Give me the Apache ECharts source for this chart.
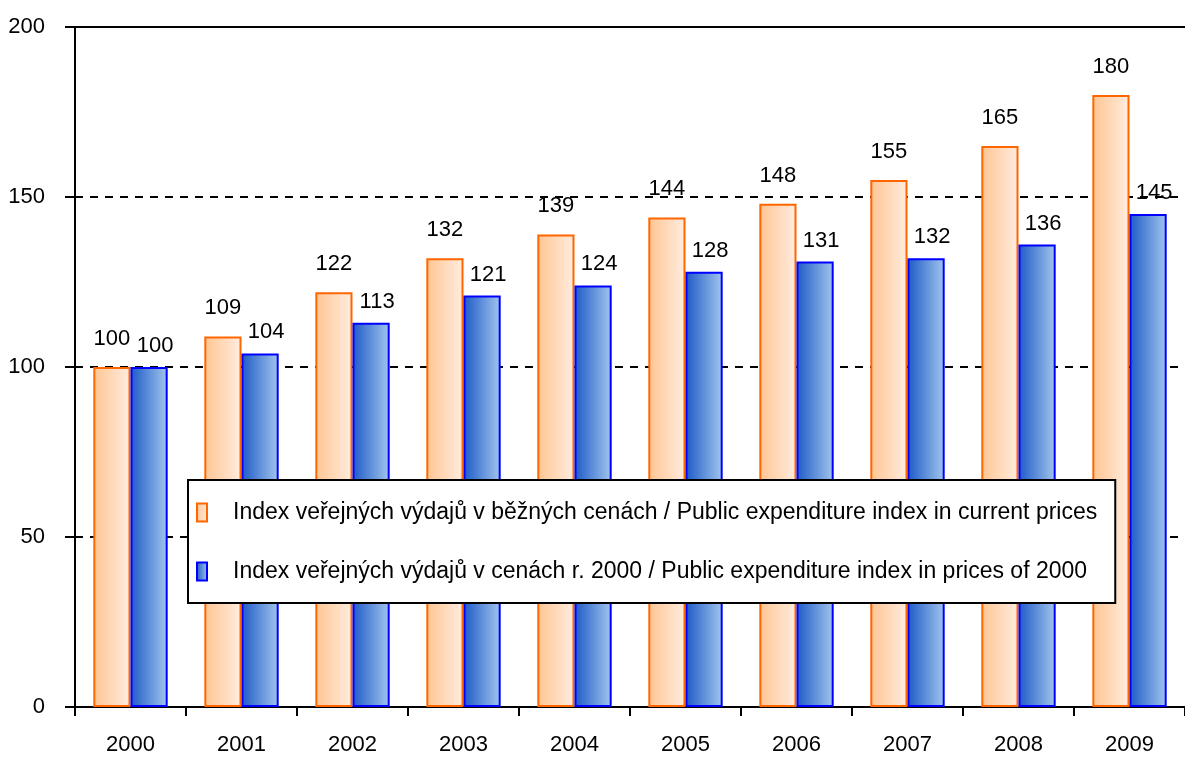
<!DOCTYPE html>
<html>
<head>
<meta charset="utf-8">
<script src="https://cdn.jsdelivr.net/npm/echarts@6/dist/echarts.min.js"></script>
<style>
html, body { margin: 0; padding: 0; background: #fff; }
#chart { width: 1185px; height: 760px; }
</style>
</head>
<body>
<div id="chart"></div>
<script>
var years = ['2000', '2001', '2002', '2003', '2004', '2005', '2006', '2007', '2008', '2009'];
var currentPrices = [100, 109, 122, 132, 139, 144, 148, 155, 165, 180];
var prices2000 = [100, 104, 113, 121, 124, 128, 131, 132, 136, 145];
var seriesNames = [
	'Index veřejných výdajů v běžných cenách / Public expenditure index in current prices',
	'Index veřejných výdajů v cenách r. 2000 / Public expenditure index in prices of 2000'
];
var yTicks = [0, 50, 100, 150, 200];

var font = "'Liberation Sans', Arial, sans-serif";

var chart = echarts.init(document.getElementById('chart'));

function grad(c1, c2) {
	return new echarts.graphic.LinearGradient(0, 0, 1, 0, [
		{ offset: 0, color: c1 },
		{ offset: 1, color: c2 }
	]);
}

var option = {
	animation : false,
	backgroundColor : '#fff',
	grid : {
		left : 75,
		right : 0,
		top : 27,
		bottom : 53
	},
	legend : {
		orient : 'vertical',
		left : 188,
		top : 480,
		backgroundColor : '#fff',
		borderColor : '#000',
		borderWidth : 2,
		borderRadius : 0,
		padding : [21, 18, 20, 8],
		icon : 'rect',
		itemWidth : 10,
		itemHeight : 18,
		itemGap : 36,
		textStyle : {
			color : '#000',
			fontFamily : font,
			fontSize : 23,
			padding : [0, 0, 0, 21]
		},
		data : seriesNames
	},
	xAxis : [ {
		type : 'category',
		data : years,
		axisLine : { lineStyle : { color : '#000', width : 2 } },
		axisTick : { show : true, inside : false, length : 9, lineStyle : { color : '#000', width : 2 } },
		axisLabel : {
			color : '#000',
			fontFamily : font,
			fontSize : 22,
			margin : 27
		}
	}, {
		type : 'category',
		data : years,
		position : 'top',
		axisLine : { lineStyle : { color : '#000', width : 2 } },
		axisTick : { show : false },
		axisLabel : { show : false }
	} ],
	yAxis : {
		type : 'value',
		min : yTicks[0],
		max : yTicks[yTicks.length - 1],
		interval : 50,
		axisLine : { show : true, lineStyle : { color : '#000', width : 2 } },
		axisTick : { show : true, length : 10, lineStyle : { color : '#000', width : 2 } },
		axisLabel : {
			color : '#000',
			fontFamily : font,
			fontSize : 22,
			margin : 30
		},
		splitLine : {
			show : true,
			lineStyle : { color : '#000', width : 2, type : [8, 7] }
		}
	},
	series : [ {
		name : seriesNames[0],
		type : 'bar',
		barGap : '0%',
		barCategoryGap : '33%',
		data : currentPrices,
		itemStyle : {
			color : grad('#FFC592', '#FFEDE0'),
			borderColor : '#FF6600',
			borderWidth : 2
		},
		label : {
			show : true,
			position : 'top',
			distance : 17,
			color : '#000',
			fontFamily : font,
			fontSize : 22
		}
	}, {
		name : seriesNames[1],
		type : 'bar',
		barGap : '0%',
		barCategoryGap : '33%',
		data : prices2000,
		itemStyle : {
			color : grad('#1E5AC8', '#A2C6EC'),
			borderColor : '#0000FF',
			borderWidth : 2
		},
		label : {
			show : true,
			position : 'top',
			distance : 10,
			offset : [6, 0],
			color : '#000',
			fontFamily : font,
			fontSize : 22
		}
	} ]
};
chart.setOption(option);
</script>
</body>
</html>
